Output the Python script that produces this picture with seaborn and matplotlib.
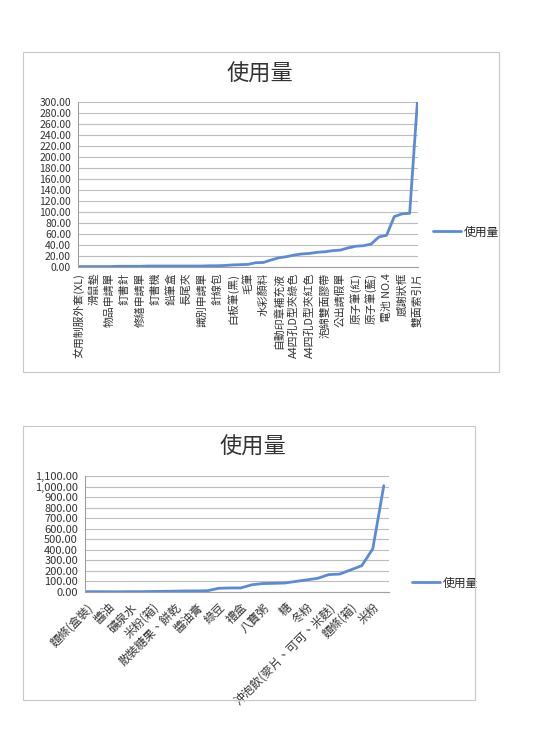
import matplotlib
matplotlib.use('Agg')
import matplotlib.pyplot as plt
import pandas as pd
import seaborn as sns
import numpy as np
from matplotlib.patches import Rectangle
from matplotlib.ticker import FuncFormatter

# Data: office supplies (top chart), sorted by usage
office_items = ['女用制服外套(XL)', '男用制服外套(L)', '滑鼠墊', '請購單', '物品申請單', '迴紋針',
                '釘書針', '膠水', '修繕申請單', '橡皮擦', '釘書機', '美工刀', '鉛筆盒', '剪刀',
                '長尾夾', '修正帶', '識別申請單', '透明膠帶', '針線包', '螢光筆', '白板筆(黑)',
                '白板筆(紅)', '毛筆', '便利貼', '水彩顏料', '印泥', '自動印章補充液', '資料夾',
                'A4四孔D型夾綠色', 'A4四孔D型夾藍色', 'A4四孔D型夾紅色', '牛皮紙袋', '泡綿雙面膠帶',
                '簽呈', '公出請假單', '信封', '原子筆(紅)', '原子筆(黑)', '原子筆(藍)', '電池 NO.3',
                '電池 NO.4', '獎狀紙', '感謝狀框', '便條紙', '雙面索引片']
office_usage = [1, 1, 1, 1, 1, 1.5, 1.5, 1.5, 1.5, 2, 2, 2, 2, 2, 2, 2, 2, 2.5, 2.5, 3,
                4, 4.5, 5, 8, 8.5, 13, 17, 19, 22, 24, 25, 27, 28, 30, 31, 35, 38, 39, 42, 55,
                58, 92, 97, 98, 300]

# Data: food items (bottom chart)
food_items = ['麵條(盒裝)', '鹽', '醬油', '沙拉油', '礦泉水', '麵粉', '米粉(箱)', '罐頭',
              '散裝糖果、餅乾', '味精', '醬油膏', '紅豆', '綠豆', '花生', '禮盒', '麵線', '八寶粥',
              '燕麥', '糖', '食用油', '冬粉', '奶粉', '沖泡飲(麥片、可可、米麩)', '餅乾', '麵條(箱)',
              '白米(包)', '米粉', '白米']
food_usage = [3, 3, 2, 2, 3, 3, 5, 6, 8, 10, 10, 12, 35, 38, 38, 68, 80, 82, 85, 100,
              115, 130, 165, 170, 210, 250, 410, 1010]

series_name = '使用量'
line_color = '#5B8BD6'
grid_color = '#BDBDBD'

sns.set_style('white')
plt.rcParams['font.family'] = ['Noto Sans CJK TC', 'DejaVu Sans']

fig = plt.figure(figsize=(5.34, 7.42), dpi=100)

# chart frames
fig.patches.append(Rectangle((0.043, 0.4987), 0.891, 0.431, transform=fig.transFigure,
                             fill=False, edgecolor='#C8C8C8', linewidth=0.8))
fig.patches.append(Rectangle((0.043, 0.0566), 0.846, 0.369, transform=fig.transFigure,
                             fill=False, edgecolor='#C8C8C8', linewidth=0.8))

fmt = FuncFormatter(lambda v, p: f'{v:,.2f}')


def style_axis(ax, n, ymax, ystep, labelsize):
    ax.set_ylim(0, ymax)
    ax.set_yticks(np.arange(0, ymax + 1, ystep))
    ax.yaxis.set_major_formatter(fmt)
    ax.grid(axis='y', color=grid_color, linewidth=0.8)
    ax.set_axisbelow(True)
    for s in ['top', 'right']:
        ax.spines[s].set_visible(False)
    for s in ['left', 'bottom']:
        ax.spines[s].set_color('#A0A0A0')
        ax.spines[s].set_linewidth(0.8)
    ax.set_xticks(np.arange(n), minor=True)
    ax.tick_params(axis='x', which='both', length=3, color='#A0A0A0', width=0.6)
    ax.tick_params(axis='y', length=3, color='#A0A0A0', width=0.6, labelsize=labelsize,
                   labelcolor='#333333', pad=2)
    ax.set_xlabel('')
    ax.set_ylabel('')


# top chart
ax1 = fig.add_axes([0.146, 0.640, 0.637, 0.222])
df1 = pd.DataFrame({'idx': np.arange(len(office_items)), series_name: office_usage})
sns.lineplot(data=df1, x='idx', y=series_name, ax=ax1, color=line_color, linewidth=2,
             label=series_name, legend=False)
style_axis(ax1, len(office_items), 300, 20, 7.5)
ax1.set_xlim(-0.1, len(office_items) - 1 + 0.1)
ax1.set_xticks(np.arange(0, len(office_items), 2))
ax1.set_xticklabels(office_items[::2], rotation=90, fontsize=7.8, color='#333333')
ax1.tick_params(axis='x', pad=1)
fig.text(0.487, 0.900, series_name, ha='center', va='center', fontsize=16, color='#333333')
ax1.legend(loc='center left', bbox_to_anchor=(433 / 534, 1 - 232 / 742),
           bbox_transform=fig.transFigure, frameon=False, fontsize=8.5,
           handlelength=2.4, handletextpad=0.2, borderpad=0, borderaxespad=0)

# bottom chart
ax2 = fig.add_axes([0.159, 0.2022, 0.569, 0.156])
df2 = pd.DataFrame({'idx': np.arange(len(food_items)), series_name: food_usage})
sns.lineplot(data=df2, x='idx', y=series_name, ax=ax2, color=line_color, linewidth=2,
             label=series_name, legend=False)
style_axis(ax2, len(food_items), 1100, 100, 8)
ax2.set_xlim(-0.15, len(food_items) - 1 + 0.45)
ax2.set_xticks(np.arange(0, len(food_items), 2))
ax2.set_xticklabels(food_items[::2], rotation=45, ha='right', rotation_mode='anchor',
                    fontsize=8.5, color='#333333')
fig.text(0.474, 0.397, series_name, ha='center', va='center', fontsize=16, color='#333333')
ax2.legend(loc='center left', bbox_to_anchor=(412 / 534, 1 - 583 / 742),
           bbox_transform=fig.transFigure, frameon=False, fontsize=8.5,
           handlelength=2.4, handletextpad=0.2, borderpad=0, borderaxespad=0)

fig.savefig('out.png', dpi=100)
